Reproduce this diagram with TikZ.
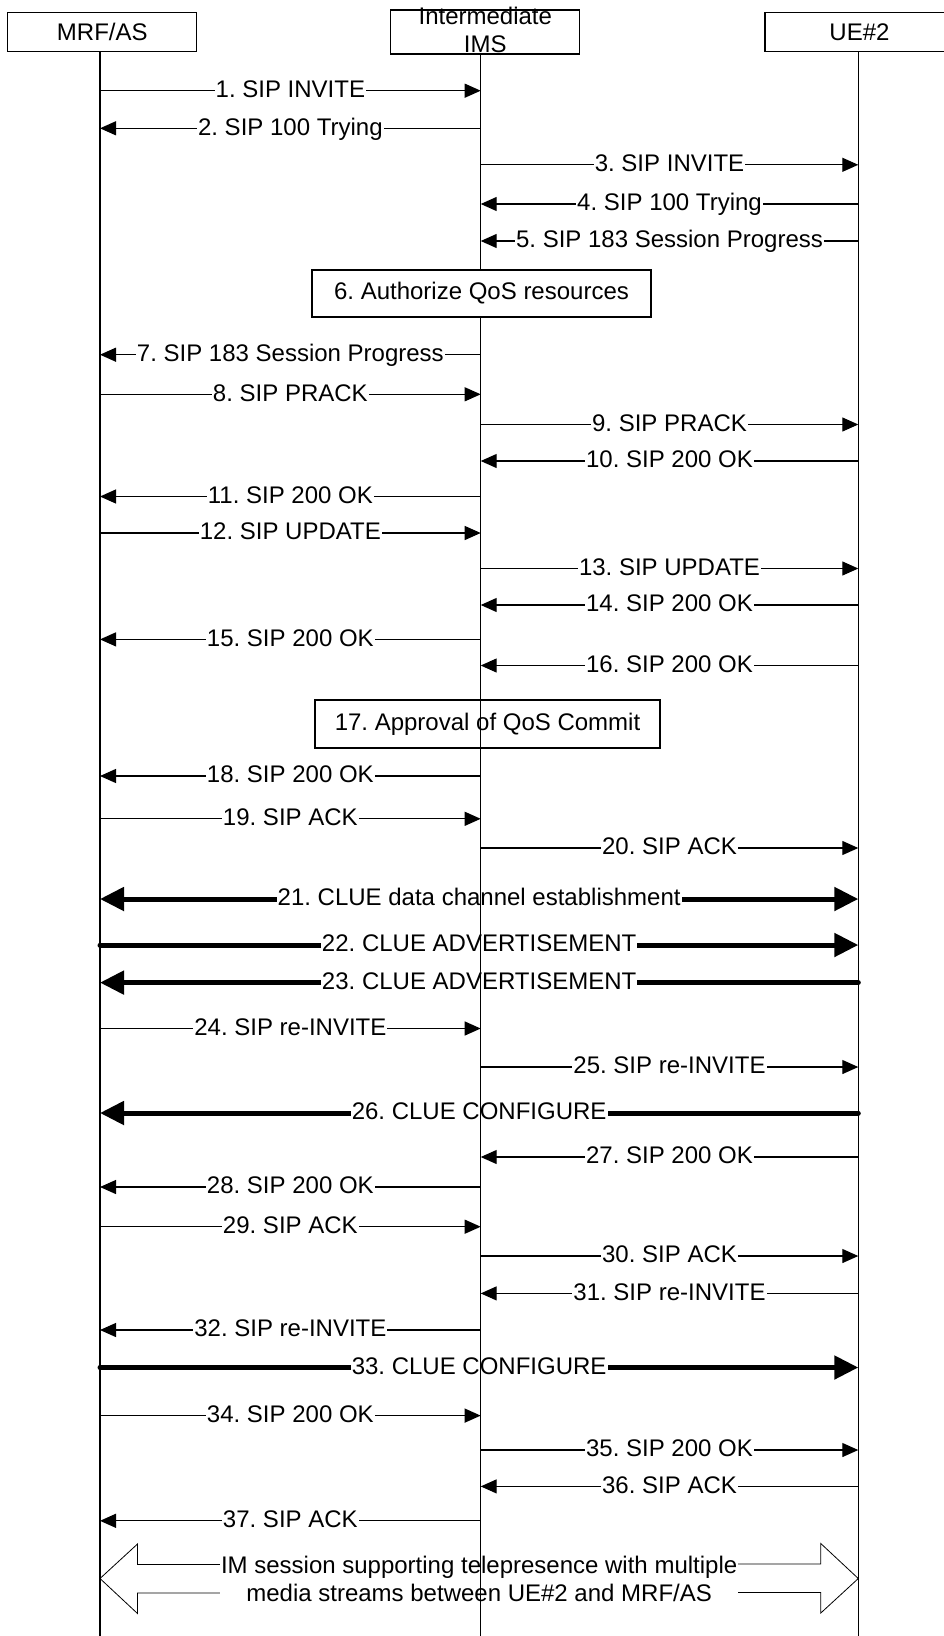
\documentclass[tikz,border=0pt]{standalone}
\usepackage{fontspec}
\setmainfont{Liberation Sans}
\usetikzlibrary{arrows.meta,calc}
\frenchspacing
\tikzset{
  hdr/.style={draw, line width=1.2pt, minimum width=189pt, minimum height=39pt, inner sep=0pt, fill=white},
  life/.style={line width=1.2pt},
  msg/.style={-{Triangle[length=16pt,width=14pt]}, line width=1.2pt},
  clue/.style={-{Triangle[length=24pt,width=23pt]}, line width=5pt, line cap=round},
  clueboth/.style={{Triangle[length=24pt,width=23pt]}-{Triangle[length=24pt,width=23pt]}, line width=5pt},
  lbl/.style={fill=white, inner xsep=1pt, inner ysep=0pt, text height=18pt, text depth=5pt, anchor=base, yshift=-6.7pt},
  stepbox/.style={draw, line width=1.2pt, fill=white, inner sep=0pt},
}
\newcommand\sig[5]{\draw[#1] (#2 |- 0,#4) -- node[lbl,midway]{#5} (#3 |- 0,#4);}
\begin{document}
\begin{tikzpicture}[x=1pt,y=-1pt, font=\fontsize{24}{22}\selectfont]
\useasboundingbox (0,0) rectangle (944,1636);
% headers
\node[hdr] (mrf) at (102.3,32.2) {MRF/AS};
\node[hdr, minimum height=44pt] (ims) at (485.3,32) {};
\node[align=center, inner sep=0pt, font=\fontsize{24}{27.7}\selectfont] (imst) at (485.3,29.9) {Intermediate\\IMS};
\node[hdr] (ue) at (859.5,32.2) {UE\#2};
\coordinate (A) at (100,51.7);
\coordinate (B) at (480.7,54);
\coordinate (C) at (858.3,51.7);
% messages
\sig{msg}{A}{B}{90.7}{1. SIP INVITE}
\sig{msg}{B}{A}{128.3}{2. SIP 100 Trying}
\sig{msg}{B}{C}{164.8}{3. SIP INVITE}
\sig{msg}{C}{B}{204}{4. SIP 100 Trying}
\sig{msg}{C}{B}{241}{5. SIP 183 Session Progress}
\sig{msg}{B}{A}{354.7}{7. SIP 183 Session Progress}
\sig{msg}{A}{B}{394.3}{8. SIP PRACK}
\sig{msg}{B}{C}{424.5}{9. SIP PRACK}
\sig{msg}{C}{B}{461}{10. SIP 200 OK}
\sig{msg}{B}{A}{496.5}{11. SIP 200 OK}
\sig{msg}{A}{B}{533}{12. SIP UPDATE}
\sig{msg}{B}{C}{568.5}{13. SIP UPDATE}
\sig{msg}{C}{B}{605}{14. SIP 200 OK}
\sig{msg}{B}{A}{639.4}{15. SIP 200 OK}
\sig{msg}{C}{B}{665.5}{16. SIP 200 OK}
\node[stepbox, minimum width=345pt, minimum height=48pt] (s17) at (487.5,724) {17. Approval of QoS Commit};
\sig{msg}{B}{A}{776}{18. SIP 200 OK}
\sig{msg}{A}{B}{818.8}{19. SIP ACK}
\sig{msg}{B}{C}{848}{20. SIP ACK}
\sig{clueboth}{A}{C}{899}{21. CLUE data channel establishment}
\sig{clue}{A}{C}{945}{22. CLUE ADVERTISEMENT}
\sig{clue}{C}{A}{982.6}{23. CLUE ADVERTISEMENT}
\sig{msg}{A}{B}{1028.5}{24. SIP re-INVITE}
\sig{msg}{B}{C}{1067}{25. SIP re-INVITE}
\sig{clue}{C}{A}{1113}{26. CLUE CONFIGURE}
\sig{msg}{C}{B}{1157}{27. SIP 200 OK}
\sig{msg}{B}{A}{1187}{28. SIP 200 OK}
\sig{msg}{A}{B}{1226.7}{29. SIP ACK}
\sig{msg}{B}{C}{1256}{30. SIP ACK}
\sig{msg}{C}{B}{1293.4}{31. SIP re-INVITE}
\sig{msg}{B}{A}{1330}{32. SIP re-INVITE}
\sig{clue}{A}{C}{1367.5}{33. CLUE CONFIGURE}
\sig{msg}{A}{B}{1415.6}{34. SIP 200 OK}
\sig{msg}{B}{C}{1450}{35. SIP 200 OK}
\sig{msg}{C}{B}{1486.4}{36. SIP ACK}
\sig{msg}{B}{A}{1520.8}{37. SIP ACK}
% block arrow
\draw[line width=0.8pt, fill=white] (A |- 0,1578.5) -- ++(37.5,-34.5) -- ++(0,20.5) -- ([xshift=-37.5pt]C |- 0,1564) -- ++(0,-20.5) -- (C |- 0,1578.5) -- ++(-37.5,34.5) -- ++(0,-20.5) -- ([xshift=37.5pt]A |- 0,1593) -- ++(0,20.5) -- cycle;
\node[fill=white, align=center, inner xsep=1pt, inner ysep=0pt, font=\fontsize{24}{28}\selectfont] (im) at ($(A |- 0,1578.5)!0.5!(C |- 0,1578.5)$) {IM session supporting telepresence with multiple\\media streams between UE\#2 and MRF/AS};
% lifelines
\coordinate (bot) at (0,1640);
\draw[life] (A) -- (A |- bot);
\draw[life] (B) -- (B |- bot);
\draw[life] (C) -- (C |- bot);
% box 6 over lifeline
\node[stepbox, minimum width=339pt, minimum height=47pt] (s6) at (481.5,293.5) {6. Authorize QoS resources};
\end{tikzpicture}
\end{document}
